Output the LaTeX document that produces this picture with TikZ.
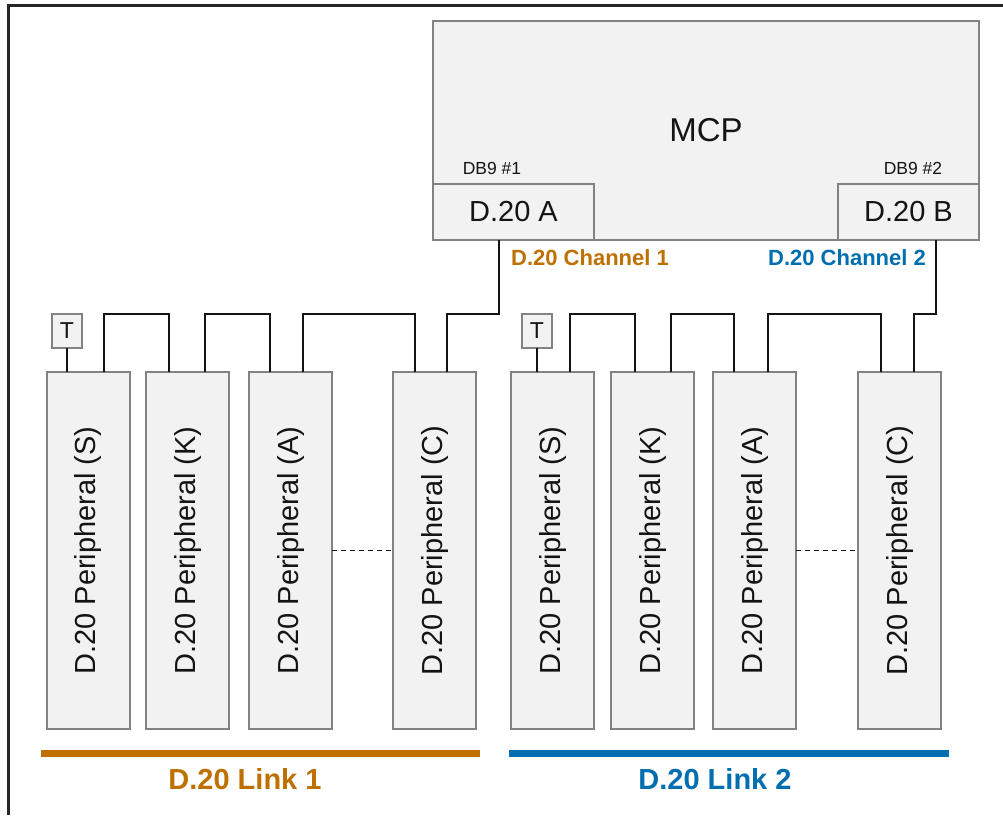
\documentclass[tikz,border=0pt]{standalone}
\usepackage{fontspec}
\setmainfont{Liberation Sans}
\definecolor{boxfill}{RGB}{242,242,242}
\definecolor{boxgray}{RGB}{130,130,130}
\definecolor{wirec}{RGB}{20,20,20}
\definecolor{txt}{RGB}{20,20,20}
\definecolor{chorange}{RGB}{190,112,0}
\definecolor{chblue}{RGB}{0,110,175}
\begin{document}
\begin{tikzpicture}[x=1pt,y=-1pt,
  box/.style={draw=boxgray, fill=boxfill, line width=1.6pt, inner sep=0pt, outer sep=0pt, anchor=north west, text=txt},
  periph/.style={box, minimum width=83pt, minimum height=357pt, font=\fontsize{29}{34}\selectfont},
  term/.style={box, minimum width=30pt, minimum height=34pt, font=\fontsize{23}{26}\selectfont},
  wire/.style={draw=wirec, line width=1.5pt},
  dwire/.style={wire, line width=1.3pt, dash pattern=on 5pt off 4pt},
  small/.style={text=txt, font=\fontsize{17.5}{20}\selectfont},
  chlabel/.style={font=\bfseries\fontsize{22}{25}\selectfont},
  linklabel/.style={font=\bfseries\fontsize{29}{33}\selectfont},
  bar/.style={line width=7pt}]
\useasboundingbox (0,0) rectangle (1003,815);
% outer frame (partly visible)
\draw[line width=2.6pt, draw=black!85] (8.5,815) -- (8.5,5.5) -- (1003,5.5);

% MCP
\node[box, minimum width=546pt, minimum height=219pt, font=\fontsize{33}{38}\selectfont] (mcp) at (433,21) {MCP};
\node[box, minimum width=161pt, minimum height=56pt, font=\fontsize{29}{34}\selectfont] (dA) at (433,184) {D.20 A};
\node[box, minimum width=141pt, minimum height=56pt, font=\fontsize{29}{34}\selectfont] (dB) at (838,184) {D.20 B};
\node[small] (db1) at (492,168) {DB9 \#1};
\node[small] (db2) at (913,168) {DB9 \#2};
\node[chlabel, text=chorange] (ch1) at (590,258) {D.20 Channel 1};
\node[chlabel, text=chblue] (ch2) at (847,258) {D.20 Channel 2};

% peripherals
\node[periph] (s1) at (47,372) {\rotatebox{90}{D.20 Peripheral (S)}};
\node[periph] (k1) at (146,372) {\rotatebox{90}{D.20 Peripheral (K)}};
\node[periph] (a1) at (249,372) {\rotatebox{90}{D.20 Peripheral (A)}};
\node[periph] (c1) at (393,372) {\rotatebox{90}{D.20 Peripheral (C)}};
\node[periph] (s2) at (511,372) {\rotatebox{90}{D.20 Peripheral (S)}};
\node[periph] (k2) at (611,372) {\rotatebox{90}{D.20 Peripheral (K)}};
\node[periph] (a2) at (713,372) {\rotatebox{90}{D.20 Peripheral (A)}};
\node[periph] (c2) at (858,372) {\rotatebox{90}{D.20 Peripheral (C)}};

% terminators
\node[term] (t1) at (52,314) {T};
\node[term] (t2) at (522,314) {T};

% ports
\coordinate (bus) at (0,314);
\coordinate (s1r) at (s1.north -| 104,0);
\coordinate (k1l) at (k1.north -| 169,0);
\coordinate (k1r) at (k1.north -| 205,0);
\coordinate (a1l) at (a1.north -| 270,0);
\coordinate (a1r) at (a1.north -| 303,0);
\coordinate (c1l) at (c1.north -| 415,0);
\coordinate (c1r) at (c1.north -| 447,0);
\coordinate (s2r) at (s2.north -| 570,0);
\coordinate (k2l) at (k2.north -| 635,0);
\coordinate (k2r) at (k2.north -| 671,0);
\coordinate (a2l) at (a2.north -| 734,0);
\coordinate (a2r) at (a2.north -| 768,0);
\coordinate (c2l) at (c2.north -| 881,0);
\coordinate (c2r) at (c2.north -| 914,0);
\coordinate (pA) at (dA.south -| 499,0);
\coordinate (pB) at (dB.south -| 936,0);

% wires
\draw[wire] (t1.south) -- (t1.south |- s1.north);
\draw[wire] (t2.south) -- (t2.south |- s2.north);
\draw[wire] (s1r) -- (s1r |- bus) -- (k1l |- bus) -- (k1l);
\draw[wire] (k1r) -- (k1r |- bus) -- (a1l |- bus) -- (a1l);
\draw[wire] (a1r) -- (a1r |- bus) -- (c1l |- bus) -- (c1l);
\draw[wire] (pA) -- (pA |- bus) -- (c1r |- bus) -- (c1r);
\draw[wire] (s2r) -- (s2r |- bus) -- (k2l |- bus) -- (k2l);
\draw[wire] (k2r) -- (k2r |- bus) -- (a2l |- bus) -- (a2l);
\draw[wire] (a2r) -- (a2r |- bus) -- (c2l |- bus) -- (c2l);
\draw[wire] (pB) -- (pB |- bus) -- (c2r |- bus) -- (c2r);
\draw[dwire] (a1.east) -- (a1.east -| c1.west);
\draw[dwire] (a2.east) -- (a2.east -| c2.west);

% links
\draw[bar, draw=chorange] (41,753.5) -- (480,753.5);
\draw[bar, draw=chblue] (509,753.5) -- (949,753.5);
\node[linklabel, text=chorange] (l1) at (245,779) {D.20 Link 1};
\node[linklabel, text=chblue] (l2) at (715,779) {D.20 Link 2};
\end{tikzpicture}
\end{document}
